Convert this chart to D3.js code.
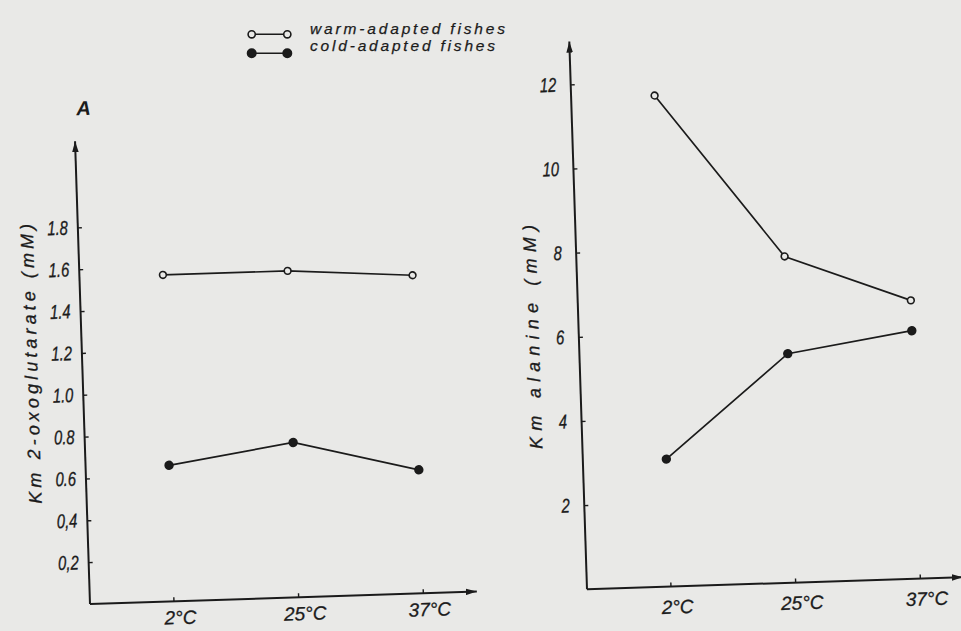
<!DOCTYPE html>
<html>
<head>
<meta charset="utf-8">
<script src="https://cdn.jsdelivr.net/npm/d3@7"></script>
<style>
  body { margin: 0; background: #e9e9e7; }
  text { font-family: "Liberation Sans", Arial, sans-serif; font-style: italic; fill: #1b1b1b; }
</style>
</head>
<body>
<svg id="chart" width="961" height="631"></svg>
<script>
// values
const temps = ["2°C", "25°C", "37°C"];
const oxoWarm = [1.56, 1.56, 1.52];
const oxoCold = [0.65, 0.74, 0.59];
const alaWarm = [11.67, 7.75, 6.61];
const alaCold = [3.03, 5.44, 5.89];
const oxoTicks = [0.2, 0.4, 0.6, 0.8, 1.0, 1.2, 1.4, 1.6, 1.8];
const oxoTickLabels = ["0,2", "0,4", "0.6", "0.8", "1.0", "1.2", "1.4", "1.6", "1.8"];
const alaTicks = [2, 4, 6, 8, 10, 12];
const alaTickLabels = ["2", "4", "6", "8", "10", "12"];
const seriesNames = ["warm-adapted fishes", "cold-adapted fishes"];

const ink = "#1b1b1b";
const paper = "#e9e9e7";
const tilt = -1.85;  // the page was scanned slightly crooked

const svg = d3.select("#chart");
svg.append("rect").attr("width", 961).attr("height", 631).attr("fill", paper);

svg.append("defs").append("marker")
    .attr("id", "arrow")
    .attr("viewBox", "0 0 10 6")
    .attr("refX", 10).attr("refY", 3)
    .attr("markerWidth", 11).attr("markerHeight", 7)
    .attr("markerUnits", "userSpaceOnUse")
    .attr("orient", "auto")
  .append("path")
    .attr("d", "M0,0 L10,3 L0,6 Z")
    .attr("fill", ink);

const panels = [
  {
    origin: [90, 604], yMax: 2.2, yLen: 460.5, yArrow: 463, xArrow: 387,
    ticks: oxoTicks, labels: oxoTickLabels, pad: 10, xLabelY: 23,
    warm: oxoWarm, cold: oxoCold,
    title: "Km 2-oxoglutarate (mM)", titleX: -45, titleY: -242, titleLen: 280,
    letter: "A"
  },
  {
    origin: [587, 589.3], yMax: 13, yLen: 547.3, yArrow: 548, xArrow: 376,
    ticks: alaTicks, labels: alaTickLabels, pad: 14.5, xLabelY: 27,
    warm: alaWarm, cold: alaCold,
    title: "Km alanine (mM)", titleX: -40, titleY: -254, titleLen: 224
  }
];

panels.forEach(p => drawPanel(p));

function drawPanel(p) {
  const g = svg.append("g")
      .attr("transform", `translate(${p.origin[0]},${p.origin[1]}) rotate(${tilt})`);

  const x = d3.scalePoint()
      .domain(temps)
      .range([83.5, 333]);

  const y = d3.scaleLinear()
      .domain([0, p.yMax])
      .range([0, -p.yLen]);

  // axis lines with arrow heads
  g.append("path")
      .attr("d", `M0,0 V${-p.yArrow}`)
      .attr("stroke", ink).attr("stroke-width", 2)
      .attr("marker-end", "url(#arrow)");
  g.append("path")
      .attr("d", `M0,0 H${p.xArrow}`)
      .attr("stroke", ink).attr("stroke-width", 2)
      .attr("marker-end", "url(#arrow)");

  // y ticks, small marks on the inside
  g.append("g")
      .call(d3.axisLeft(y)
          .tickValues(p.ticks)
          .tickFormat((d, i) => p.labels[i])
          .tickSize(-4))
      .call(a => a.select(".domain").remove())
      .call(a => a.selectAll(".tick line").attr("stroke", ink).attr("stroke-width", 1.4))
      .call(a => a.selectAll(".tick text")
          .attr("x", 0)
          .attr("transform", `translate(${-p.pad},0) scale(0.74,1)`)
          .attr("font-family", "Liberation Sans")
          .attr("font-style", "italic")
          .attr("font-size", 20)
          .attr("fill", ink)
          .attr("stroke", ink)
          .attr("stroke-width", 0.35));

  // x ticks
  g.append("g")
      .call(d3.axisBottom(x).tickSize(-4))
      .call(a => a.select(".domain").remove())
      .call(a => a.selectAll(".tick line").attr("stroke", ink).attr("stroke-width", 1.4))
      .call(a => a.selectAll(".tick text")
          .attr("y", p.xLabelY).attr("dy", 0).attr("dx", 6)
          .attr("font-family", "Liberation Sans")
          .attr("font-style", "italic")
          .attr("font-size", 19)
          .attr("fill", ink)
          .attr("stroke", ink)
          .attr("stroke-width", 0.3));

  // axis title
  g.append("text")
      .attr("transform", `translate(${p.titleX},${p.titleY}) rotate(-90)`)
      .attr("text-anchor", "middle")
      .attr("font-size", 18)
      .attr("stroke", ink)
      .attr("stroke-width", 0.3)
      .attr("textLength", p.titleLen)
      .attr("lengthAdjust", "spacing")
      .text(p.title);

  if (p.letter) {
    g.append("text")
        .attr("x", 9.6).attr("y", -489)
        .attr("text-anchor", "middle")
        .attr("font-family", "Liberation Serif")
        .attr("font-weight", "bold")
        .attr("font-size", 20)
        .text(p.letter);
  }

  const line = d3.line()
      .x((d, i) => x(temps[i]))
      .y(d => y(d));

  [["warm", p.warm], ["cold", p.cold]].forEach(([kind, vals]) => {
    g.append("path")
        .datum(vals)
        .attr("d", line)
        .attr("fill", "none")
        .attr("stroke", ink)
        .attr("stroke-width", 1.7);

    g.selectAll("circle." + kind)
      .data(vals)
      .join("circle")
        .attr("class", kind)
        .attr("cx", (d, i) => x(temps[i]))
        .attr("cy", d => y(d))
        .attr("r", kind === "warm" ? 3.4 : 3.9)
        .attr("fill", kind === "warm" ? paper : ink)
        .attr("stroke", ink)
        .attr("stroke-width", 1.6);
  });
}

// legend
const legend = svg.append("g").attr("class", "legend");
const legendY = d3.scalePoint().domain(seriesNames).range([34.3, 53.3]);
const legendLen = [195, 185];
const legendBase = [34, 51];

seriesNames.forEach((name, i) => {
  const ly = legendY(name);
  legend.append("line")
      .attr("x1", 251.7).attr("x2", 287.3)
      .attr("y1", ly).attr("y2", ly)
      .attr("stroke", ink).attr("stroke-width", 1.6);
  [251.7, 287.3].forEach(cx => {
    legend.append("circle")
        .attr("cx", cx).attr("cy", ly)
        .attr("r", i === 0 ? 3.6 : 4.2)
        .attr("fill", i === 0 ? paper : ink)
        .attr("stroke", ink).attr("stroke-width", 1.6);
  });
  legend.append("text")
      .attr("x", 310)
      .attr("y", legendBase[i])
      .attr("font-size", 15.5)
      .attr("stroke", ink)
      .attr("stroke-width", 0.25)
      .attr("textLength", legendLen[i])
      .attr("lengthAdjust", "spacing")
      .text(name);
});
</script>
</body>
</html>
